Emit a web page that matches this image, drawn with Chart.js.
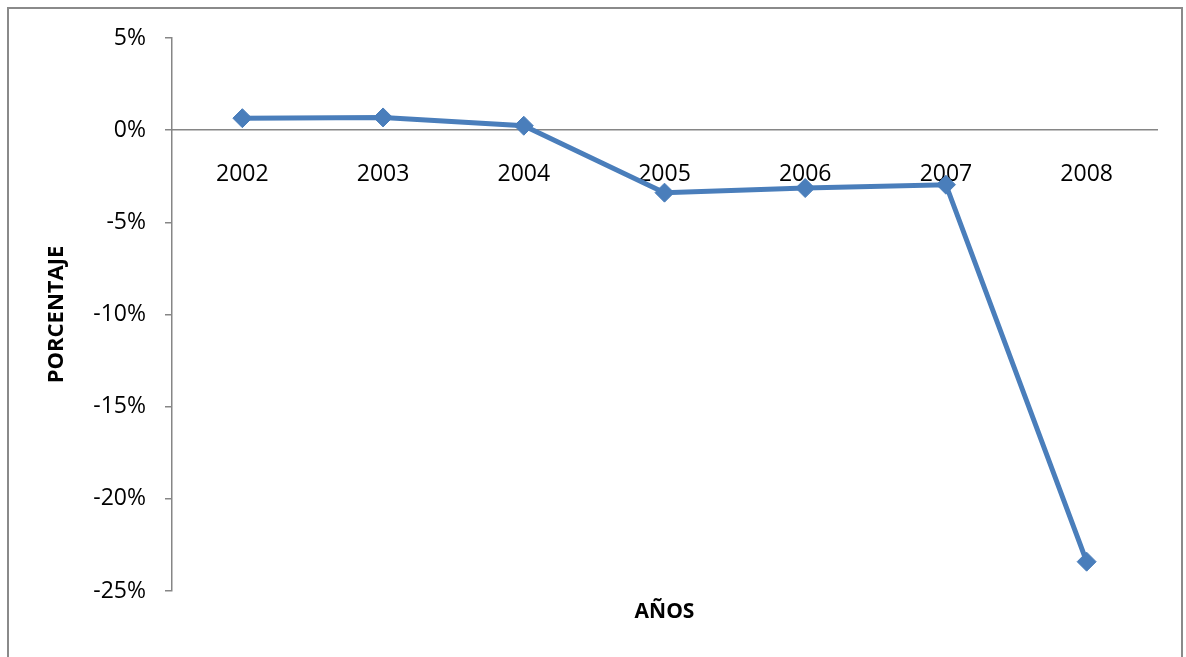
<!DOCTYPE html>
<html>
<head>
<meta charset="utf-8">
<script src="https://cdn.jsdelivr.net/npm/chart.js@4"></script>
<style>
    body { margin: 0; background: #fff; }
    #frame { position: absolute; left: 7px; top: 7px; width: 1172px; height: 700px; border: 2px solid #8a8a8a; }
    #chartCanvas { position: absolute; left: 0; top: 0; }
</style>
</head>
<body>
<div id="frame"></div>
<canvas id="chartCanvas" width="1186" height="657"></canvas>
<script>
// Data
const years = ["2002", "2003", "2004", "2005", "2006", "2007", "2008"];
const percentages = [0.65, 0.69, 0.24, -3.39, -3.14, -2.96, -23.41];
const yTitle = "PORCENTAJE";
const xTitle = "AÑOS";

const fontFamily = "'Open Sans', 'Liberation Sans', sans-serif";
const axisGray = "#868686";

// Draw the axis titles at the places Excel puts them
const axisTitles = {
    id: "axisTitles",
    afterDraw(chart) {
        const { ctx, chartArea } = chart;
        ctx.save();
        ctx.fillStyle = "#000";
        ctx.font = "bold 21px " + fontFamily;
        ctx.textAlign = "center";
        ctx.textBaseline = "middle";
        ctx.fillText(xTitle, (chartArea.left + chartArea.right) / 2, 612);
        ctx.font = "bold 22px " + fontFamily;
        ctx.translate(57, (chartArea.top + chartArea.bottom) / 2);
        ctx.rotate(-Math.PI / 2);
        ctx.fillText(yTitle, 0, 0);
        ctx.restore();
    }
};

const ctx = document.getElementById("chartCanvas").getContext("2d");

new Chart(ctx, {
    type: "line",
    data: {
        labels: years,
        datasets: [{
            data: percentages,
            borderColor: "#4a7ebb",
            backgroundColor: "#4a7ebb",
            borderWidth: 5,
            tension: 0,
            pointStyle: "rectRot",
            pointRadius: 9.5,
            pointBorderWidth: 1,
            pointBackgroundColor: "#4a7ebb",
            pointBorderColor: "#4a7ebb"
        }]
    },
    options: {
        responsive: false,
        animation: false,
        layout: { padding: { top: 38, right: 29, bottom: 66, left: 0 } },
        plugins: {
            legend: { display: false },
            tooltip: { enabled: false }
        },
        scales: {
            x: {
                position: { y: 0 },
                offset: true,
                grid: { display: false },
                border: { display: true, color: axisGray, width: 1.5 },
                ticks: {
                    color: "#000",
                    padding: 22,
                    maxRotation: 0,
                    font: { family: fontFamily, size: 23 }
                }
            },
            y: {
                min: -25,
                max: 5,
                afterFit(scale) { scale.width = 172; },
                grid: {
                    drawOnChartArea: false,
                    drawTicks: true,
                    tickLength: 7,
                    color: axisGray,
                    lineWidth: 1.5
                },
                border: { display: true, color: axisGray, width: 1.5 },
                ticks: {
                    stepSize: 5,
                    color: "#000",
                    padding: 19,
                    font: { family: fontFamily, size: 23 },
                    callback: v => v + "%"
                }
            }
        }
    },
    plugins: [axisTitles]
});
</script>
</body>
</html>
